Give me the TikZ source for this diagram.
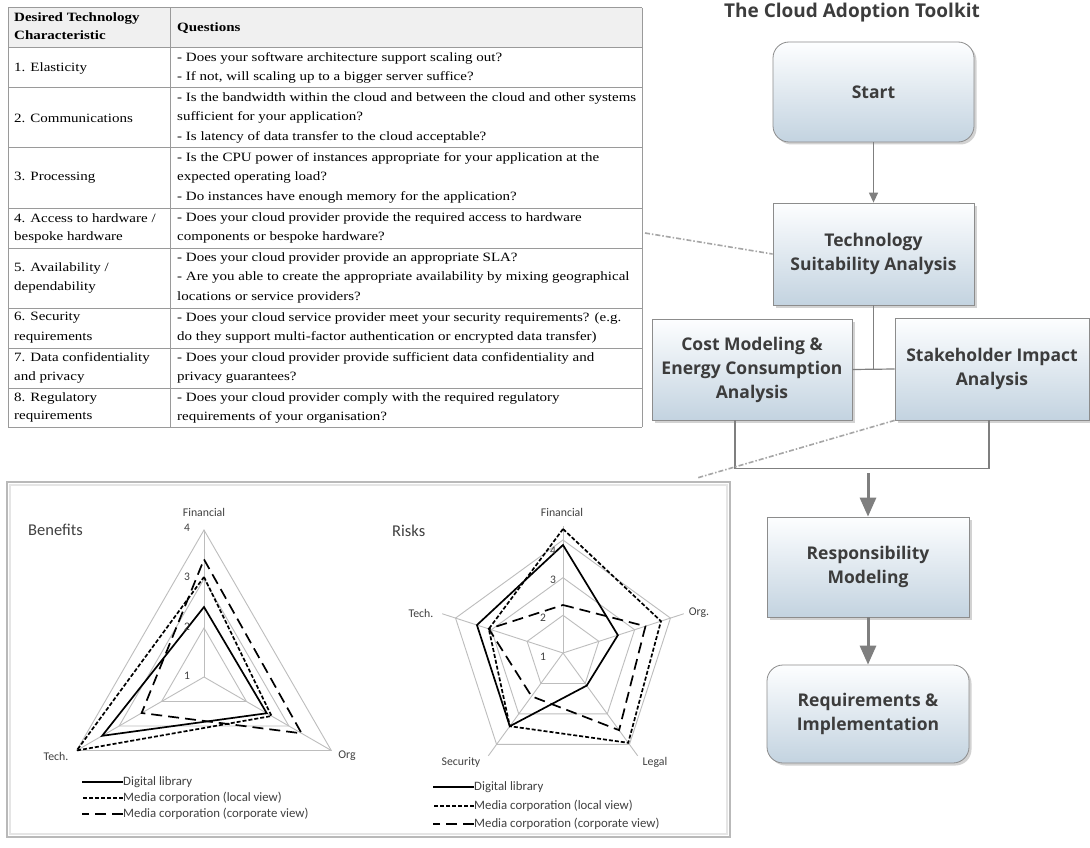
\documentclass[tikz,border=0pt]{standalone}
\usepackage{fontspec}
\setmainfont{Liberation Serif}
\newfontfamily\uifont{Open Sans}
\newfontfamily\chartfont{Carlito}
\usetikzlibrary{arrows.meta,shadows,calc}

\definecolor{tabline}{HTML}{9A9A9A}
\definecolor{headbg}{HTML}{F0F0F0}
\definecolor{boxtop}{HTML}{FDFEFF}
\definecolor{boxbot}{HTML}{C3D3E0}
\definecolor{boxline}{HTML}{8C8C8C}
\definecolor{boxtext}{HTML}{3C3C3C}
\definecolor{flow}{HTML}{7F7F7F}
\definecolor{ringcol}{HTML}{BDBDBD}
\definecolor{lbl}{HTML}{404040}

% table text is set slightly widened
\newcommand\tw[1]{\scalebox{1.18}[1]{#1}}

\tikzset{
  tcell/.style={anchor=west, inner sep=0pt, font=\fontsize{12.7}{15}\selectfont},
  thead/.style={anchor=west, inner sep=0pt, font=\fontsize{12.7}{15}\selectfont\bfseries},
  flowbox/.style={draw=boxline, line width=0.8pt, top color=boxtop, bottom color=boxbot,
    drop shadow={shadow xshift=2.5pt, shadow yshift=-2.5pt, opacity=0.35},
    align=center, text=boxtext, font=\uifont\bfseries\fontsize{17.5}{24}\selectfont, inner sep=0pt},
  roundbox/.style={flowbox, rounded corners=16pt},
  flowline/.style={draw=flow, line width=1.2pt},
  thinarrow/.style={draw=flow, line width=1.3pt, -{Triangle[length=10pt,width=9pt]}},
  thickarrow/.style={draw=flow, line width=3pt, -{Triangle[length=19pt,width=16pt]}},
  zoomline/.style={draw=gray!70, line width=1.6pt, dash pattern=on 5pt off 2pt on 1.5pt off 2pt},
  ringline/.style={draw=ringcol, line width=0.9pt},
  dlib/.style={draw=black, line width=1.7pt},
  mlocal/.style={draw=black, line width=1.7pt, dash pattern=on 4pt off 2pt},
  mcorp/.style={draw=black, line width=1.7pt, dash pattern=on 11pt off 6pt},
  axlabel/.style={font=\chartfont\fontsize{11.8}{13}\selectfont, text=lbl, inner sep=0pt},
  ticklabel/.style={font=\chartfont\fontsize{11.5}{13}\selectfont, text=lbl, inner sep=0pt},
  legtext/.style={anchor=west, font=\chartfont\fontsize{12.8}{14}\selectfont, text=lbl, inner sep=0pt},
  charttitle/.style={anchor=west, font=\chartfont\fontsize{16.5}{18}\selectfont, text=lbl, inner sep=0pt},
}

\newcommand\qtext[3]{\node[tcell] (#1) at (177,-#2) {\tw{#3}};}
\newcommand\ctext[3]{\node[tcell] (#1) at (14,-#2) {\tw{#3}};}

\begin{document}
\begin{tikzpicture}[x=1pt,y=1pt]
\useasboundingbox (0,0) rectangle (1090,-848);
\fill[white] (0,0) rectangle (1090,-848);

% ---------- characteristics table ----------
\fill[headbg] (8,-8) rectangle (642,-48);
\foreach \yy in {8,48,88,148,208,248,308,348,388,427}
  \draw[tabline, line width=1pt] (8,-\yy) -- (642,-\yy);
\foreach \xx in {8,170,642}
  \draw[tabline, line width=1pt] (\xx,-8) -- (\xx,-427);

\node[thead] (h1) at (14,-18) {\tw{Desired Technology}};
\node[thead] (h2) at (14,-35) {\tw{Characteristic}};
\node[thead] (h3) at (177,-28) {\tw{Questions}};

\ctext{c1}{68}{1. Elasticity}
\qtext{q1a}{58}{- Does your software architecture support scaling out?}
\qtext{q1b}{77.5}{- If not, will scaling up to a bigger server suffice?}

\ctext{c2}{118}{2. Communications}
\qtext{q2a}{98}{- Is the bandwidth within the cloud and between the cloud and other systems}
\qtext{q2b}{117.5}{sufficient for your application?}
\qtext{q2c}{137}{- Is latency of data transfer to the cloud acceptable?}

\ctext{c3}{178}{3. Processing}
\qtext{q3a}{158}{- Is the CPU power of instances appropriate for your application at the}
\qtext{q3b}{177.5}{expected operating load?}
\qtext{q3c}{197}{- Do instances have enough memory for the application?}

\ctext{c4a}{218}{4. Access to hardware /}
\ctext{c4b}{237.5}{bespoke hardware}
\qtext{q4a}{218}{- Does your cloud provider provide the required access to hardware}
\qtext{q4b}{237.5}{components or bespoke hardware?}

\ctext{c5a}{268}{5. Availability /}
\ctext{c5b}{287.5}{dependability}
\qtext{q5a}{258}{- Does your cloud provider provide an appropriate SLA?}
\qtext{q5b}{277.5}{- Are you able to create the appropriate availability by mixing geographical}
\qtext{q5c}{297}{locations or service providers?}

\ctext{c6a}{318}{6. Security}
\ctext{c6b}{337.5}{requirements}
\qtext{q6a}{318}{- Does your cloud service provider meet your security requirements? (e.g.}
\qtext{q6b}{337.5}{do they support multi-factor authentication or encrypted data transfer)}

\ctext{c7a}{358}{7. Data confidentiality}
\ctext{c7b}{377.5}{and privacy}
\qtext{q7a}{358}{- Does your cloud provider provide sufficient data confidentiality and}
\qtext{q7b}{377.5}{privacy guarantees?}

\ctext{c8a}{398}{8. Regulatory}
\ctext{c8b}{417}{requirements}
\qtext{q8a}{398}{- Does your cloud provider comply with the required regulatory}
\qtext{q8b}{417}{requirements of your organisation?}

\coordinate (tabedge) at (645,-233);

% ---------- toolkit flow ----------
\node[font=\uifont\bfseries\fontsize{19}{22}\selectfont, text=boxtext, inner sep=0pt] (title) at (852,-13) {The Cloud Adoption Toolkit};

\node[roundbox, minimum width=201pt, minimum height=100pt] (start) at (873.5,-92) {Start};
\node[flowbox, minimum width=201pt, minimum height=102pt] (tech) at (873.5,-254) {Technology\\Suitability Analysis};
\node[flowbox, minimum width=200pt, minimum height=101pt] (cost) at (752,-369.5) {Cost Modeling \&\\Energy Consumption\\Analysis};
\node[flowbox, minimum width=194pt, minimum height=102pt] (stake) at (992,-369) {Stakeholder Impact\\Analysis};
\node[flowbox, minimum width=202pt, minimum height=100pt] (resp) at (868,-567) {Responsibility\\Modeling};
\node[roundbox, minimum width=202pt, minimum height=98pt] (req) at (868,-714) {Requirements \&\\Implementation};

\draw[thinarrow] (start.south) -- (tech.north);
\draw[flowline] (tech.south) -- (tech.south |- cost.east);
\draw[flowline] (cost.east) -- (stake.west);
\draw[flowline] ([xshift=-17pt]cost.south) -- ++(0,-48) -| ([xshift=-3pt]stake.south);
\coordinate (merge) at (867,-473);
\draw[thickarrow] (resp.north |- merge) -- (resp.north);
\draw[thickarrow] (resp.south) -- (req.north);

% detail call-outs
\coordinate (chartcorner) at (697,-478);
\draw[zoomline] (tabedge) -- (tech.west);
\draw[zoomline] (stake.south west) -- (chartcorner);

% ---------- radar chart panel ----------
\draw[gray!20, line width=2.5pt] (10,-485) rectangle (727,-834);
\draw[gray!55, line width=1.2pt] (7,-482) rectangle (730,-837);

\node[charttitle] (bentitle) at (28,-530) {Benefits};
\node[charttitle] (risktitle) at (392,-531) {Risks};

% benefits radar: value v sits at radius (v-1)*49
\begin{scope}[shift={(204,-677)}]
  \foreach \r in {49,98,147}
    \draw[ringline] (90:\r) -- (210:\r) -- (330:\r) -- cycle;
  \foreach \a in {90,210,330}
    \draw[ringline] (0,0) -- (\a:147);
  \draw[dlib]   (90:70)  -- (330:72.5) -- (210:117.6) -- cycle;
  \draw[mlocal] (90:100) -- (330:78)   -- (210:147)   -- cycle;
  \draw[mcorp]  (90:117.6) -- (330:112.7) -- (210:72) -- cycle;
\end{scope}
\node[axlabel] (bfin) at (204,-512) {Financial};
\node[axlabel] (btech) at (56,-756) {Tech.};
\node[axlabel] (borg) at (347,-756) {Org};
\node[ticklabel] (bt4) at (187,-528) {4};
\node[ticklabel] (bt3) at (187,-577) {3};
\node[ticklabel] (bt2) at (187,-627) {2};
\node[ticklabel] (bt1) at (187,-676) {1};

% risks radar: value v sits at radius (v-1)*37.7
\begin{scope}[shift={(563,-653)}]
  \foreach \r in {37.7,75.3,113}
    \draw[ringline] (90:\r) -- (18:\r) -- (-54:\r) -- (-126:\r) -- (162:\r) -- cycle;
  \foreach \a in {90,18,-54,-126,162}
    \draw[ringline] (0,0) -- (\a:127);
  \draw[dlib]   (90:108) -- (18:57.7) -- (-54:40.3) -- (-126:90.5) -- (162:90.5) -- cycle;
  \draw[mlocal] (90:124) -- (18:103)  -- (-54:111)  -- (-126:90.5) -- (162:78)   -- cycle;
  \draw[mcorp]  (90:48)  -- (18:86.7) -- (-54:95.4) -- (-126:53.5) -- (162:78)   -- cycle;
\end{scope}
\node[axlabel] (rfin) at (562,-512) {Financial};
\node[axlabel] (rtech) at (421,-613) {Tech.};
\node[axlabel] (rorg) at (699,-613) {Org.};
\node[axlabel] (rsec) at (461,-762) {Security};
\node[axlabel] (rlegal) at (655,-762) {Legal};
\node[ticklabel] (rt4) at (553,-551) {4};
\node[ticklabel] (rt3) at (553,-580) {3};
\node[ticklabel] (rt2) at (543,-618) {2};
\node[ticklabel] (rt1) at (543,-657) {1};

% legends
\node[legtext] (bl1) at (123,-782) {Digital library};
\node[legtext] (bl2) at (123,-798) {Media corporation (local view)};
\node[legtext] (bl3) at (123,-814) {Media corporation (corporate view)};
\draw[dlib]   (bl1.west) -- ++(-41,0);
\draw[mlocal] (bl2.west) -- ++(-41,0);
\draw[mcorp]  (bl3.west) -- ++(-41,0);

\node[legtext] (rl1) at (474,-787) {Digital library};
\node[legtext] (rl2) at (474,-806) {Media corporation (local view)};
\node[legtext] (rl3) at (474,-824) {Media corporation (corporate view)};
\draw[dlib]   (rl1.west) -- ++(-41,0);
\draw[mlocal] (rl2.west) -- ++(-41,0);
\draw[mcorp]  (rl3.west) -- ++(-41,0);
\end{tikzpicture}
\end{document}
